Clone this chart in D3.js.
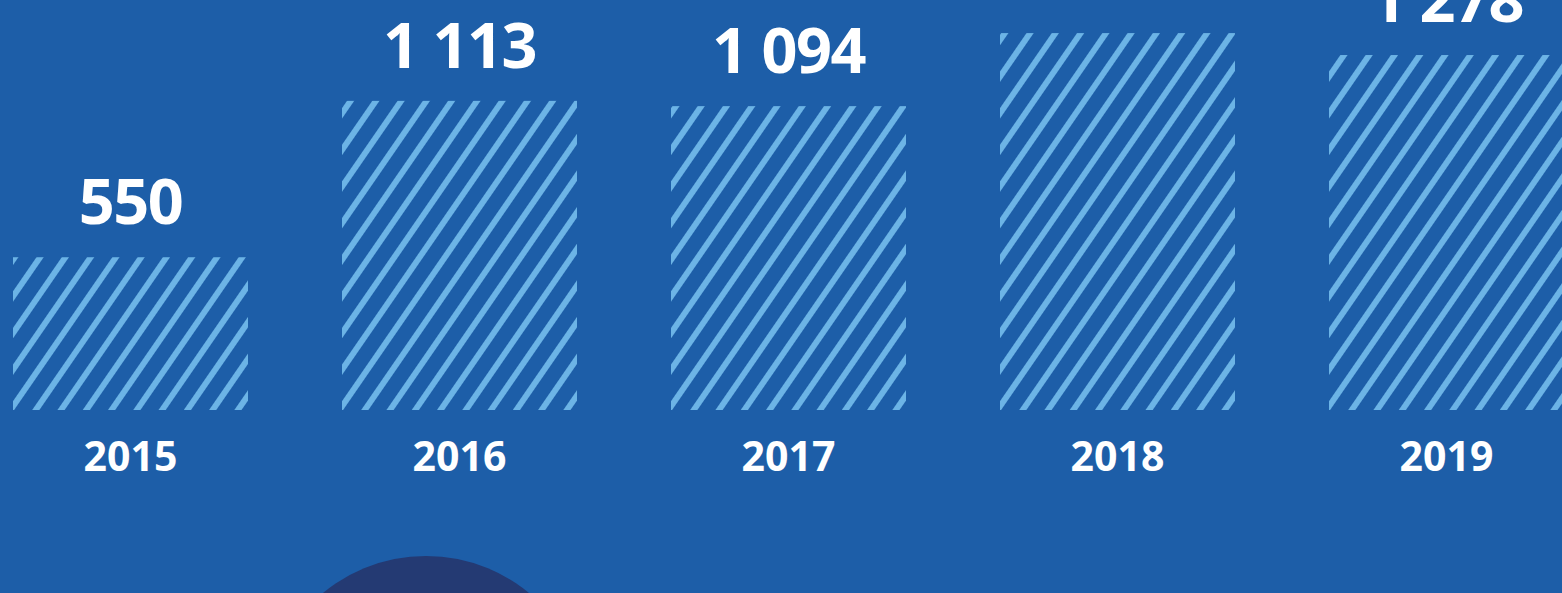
<!DOCTYPE html>
<html>
<head>
<meta charset="utf-8">
<script src="https://cdn.jsdelivr.net/npm/d3@7"></script>
<style>
  html, body { margin: 0; padding: 0; background: #1d5ea8; overflow: hidden; }
  svg { display: block; }
</style>
</head>
<body>
<svg id="chart" width="1562" height="593"></svg>
<script>
const years = ["2015", "2016", "2017", "2018", "2019"];
const values = [550, 1113, 1094, 1357, 1278];
// 2018's label lies above the visible frame in the reference, so it is not drawn
const valueLabels = ["550", "1 113", "1 094", "", "1 278"];

const W = 1562, H = 593;
const svg = d3.select("#chart");

svg.append("rect").attr("width", W).attr("height", H).attr("fill", "#1d5ea8");

// decorative circle at bottom
svg.append("circle").attr("cx", 426).attr("cy", 718).attr("r", 162).attr("fill", "#243a73");

const step = 329, bw = 235;
const pad = (step - bw) / step;
const x0 = 13 - (step - bw) / 2;
const x = d3.scaleBand().domain(years)
  .range([x0, x0 + step * years.length])
  .paddingInner(pad).paddingOuter(pad / 2);

const baseY = 410;
const y = d3.scaleLinear().domain([0, 1500]).range([baseY, baseY - 1500 * 0.27775]);

const defs = svg.append("defs");
const period = 20.8, stripeW = 5.9, angle = 34.6;
years.forEach((yr, i) => {
  const p = defs.append("pattern")
    .attr("id", "hatch" + i)
    .attr("patternUnits", "userSpaceOnUse")
    .attr("width", period).attr("height", 40)
    .attr("patternTransform", `translate(${x(yr) - 2.5},${baseY}) rotate(${angle})`);
  p.append("rect").attr("x", -stripeW / 2).attr("y", 0).attr("width", stripeW).attr("height", 40).attr("fill", "#6cb4e6");
  p.append("rect").attr("x", period - stripeW / 2).attr("y", 0).attr("width", stripeW).attr("height", 40).attr("fill", "#6cb4e6");
});

svg.selectAll("rect.bar").data(values).join("rect")
  .attr("class", "bar")
  .attr("x", (d, i) => x(years[i]))
  .attr("width", x.bandwidth())
  .attr("y", d => y(d))
  .attr("height", d => baseY - y(d))
  .attr("fill", (d, i) => `url(#hatch${i})`);

svg.selectAll("text.val").data(values.map((v, i) => ({v, i})).filter(d => valueLabels[d.i] !== ""))
  .join("text")
  .attr("class", "val")
  .attr("x", d => x(years[d.i]) + x.bandwidth() / 2)
  .attr("y", d => y(d.v) - 33)
  .attr("text-anchor", "middle")
  .attr("fill", "#ffffff")
  .attr("font-family", "'Noto Sans', sans-serif")
  .attr("font-weight", 700)
  .attr("font-size", 63)
  .attr("letter-spacing", -1.5)
  .text(d => valueLabels[d.i]);

svg.selectAll("text.year").data(years).join("text")
  .attr("class", "year")
  .attr("x", d => x(d) + x.bandwidth() / 2)
  .attr("y", 471)
  .attr("text-anchor", "middle")
  .attr("fill", "#ffffff")
  .attr("font-family", "'Noto Sans', sans-serif")
  .attr("font-weight", 700)
  .attr("font-size", 41)
  .text(d => d);
</script>
</body>
</html>
